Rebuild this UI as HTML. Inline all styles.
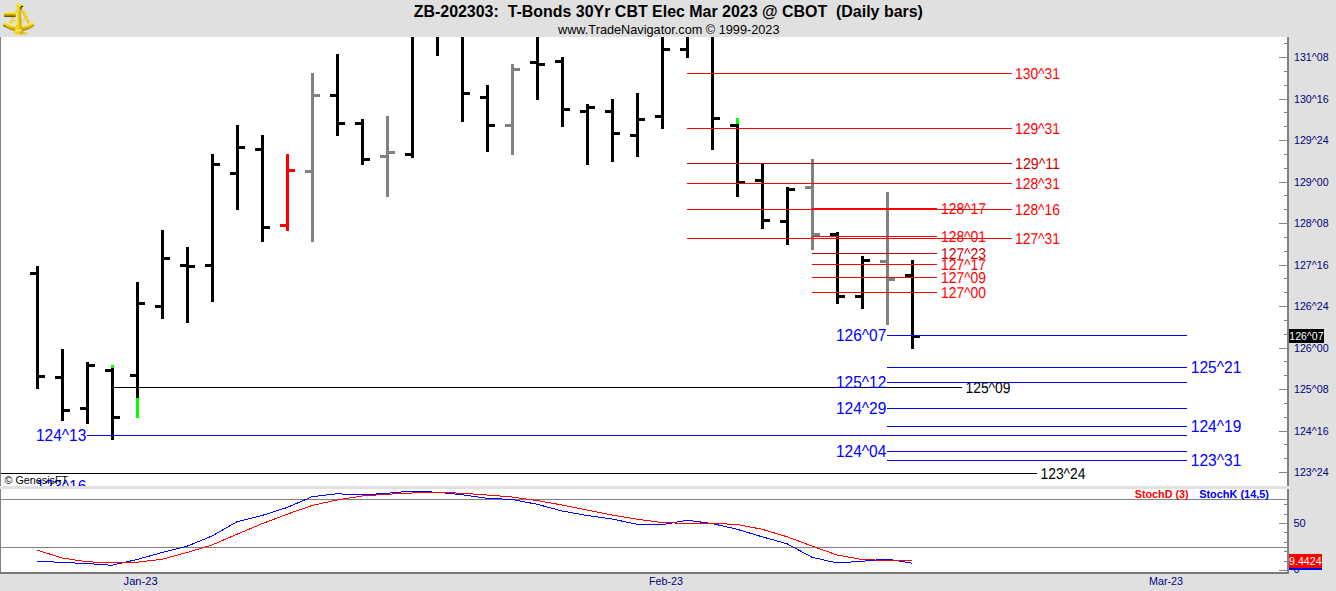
<!DOCTYPE html>
<html><head><meta charset="utf-8"><title>ZB-202303</title>
<style>
html,body{margin:0;padding:0;background:#fff;overflow:hidden}
svg{display:block;font-family:"Liberation Sans",Arial,sans-serif}
svg>rect{shape-rendering:crispEdges}
</style></head><body>
<svg width="1336" height="591" viewBox="0 0 1336 591">
<rect x="0" y="0" width="1336" height="591" fill="#ffffff"/>
<rect x="0" y="0" width="1336" height="37" fill="#e0e0e0"/>
<rect x="1289" y="37" width="47" height="554" fill="#e0e0e0"/>
<rect x="0" y="574" width="1336" height="17" fill="#e0e0e0"/>
<rect x="113" y="387" width="849" height="1" fill="#000000"/>
<rect x="1" y="473" width="1036" height="1" fill="#000000"/>
<rect x="36" y="266" width="3" height="123" fill="#000000"/>
<rect x="30" y="272" width="6" height="3" fill="#000000"/>
<rect x="39" y="375" width="6" height="3" fill="#000000"/>
<rect x="61" y="349" width="3" height="72" fill="#000000"/>
<rect x="55" y="376" width="6" height="3" fill="#000000"/>
<rect x="64" y="409" width="6" height="3" fill="#000000"/>
<rect x="86" y="362" width="3" height="62" fill="#000000"/>
<rect x="80" y="407" width="6" height="3" fill="#000000"/>
<rect x="89" y="364" width="6" height="3" fill="#000000"/>
<rect x="111" y="368" width="3" height="72" fill="#000000"/>
<rect x="105" y="369" width="6" height="3" fill="#000000"/>
<rect x="114" y="416" width="6" height="3" fill="#000000"/>
<rect x="136" y="282" width="3" height="116" fill="#000000"/>
<rect x="130" y="374" width="6" height="3" fill="#000000"/>
<rect x="139" y="302" width="6" height="3" fill="#000000"/>
<rect x="161" y="230" width="3" height="89" fill="#000000"/>
<rect x="155" y="305" width="6" height="3" fill="#000000"/>
<rect x="164" y="257" width="6" height="3" fill="#000000"/>
<rect x="186" y="247" width="3" height="76" fill="#000000"/>
<rect x="180" y="264" width="6" height="3" fill="#000000"/>
<rect x="189" y="265" width="6" height="3" fill="#000000"/>
<rect x="211" y="154" width="3" height="148" fill="#000000"/>
<rect x="205" y="264" width="6" height="3" fill="#000000"/>
<rect x="214" y="163" width="6" height="3" fill="#000000"/>
<rect x="236" y="125" width="3" height="85" fill="#000000"/>
<rect x="230" y="172" width="6" height="3" fill="#000000"/>
<rect x="239" y="146" width="6" height="3" fill="#000000"/>
<rect x="261" y="135" width="3" height="107" fill="#000000"/>
<rect x="255" y="148" width="6" height="3" fill="#000000"/>
<rect x="264" y="226" width="6" height="3" fill="#000000"/>
<rect x="286" y="154" width="3" height="77" fill="#ff0000"/>
<rect x="280" y="224" width="6" height="3" fill="#ff0000"/>
<rect x="289" y="169" width="6" height="3" fill="#ff0000"/>
<rect x="311" y="73" width="3" height="169" fill="#808080"/>
<rect x="305" y="170" width="6" height="3" fill="#808080"/>
<rect x="314" y="94" width="6" height="3" fill="#808080"/>
<rect x="336" y="54" width="3" height="82" fill="#000000"/>
<rect x="330" y="94" width="6" height="3" fill="#000000"/>
<rect x="339" y="122" width="6" height="3" fill="#000000"/>
<rect x="361" y="119" width="3" height="46" fill="#000000"/>
<rect x="355" y="122" width="6" height="3" fill="#000000"/>
<rect x="364" y="158" width="6" height="3" fill="#000000"/>
<rect x="386" y="116" width="3" height="81" fill="#808080"/>
<rect x="380" y="155" width="6" height="3" fill="#808080"/>
<rect x="389" y="151" width="6" height="3" fill="#808080"/>
<rect x="411" y="37" width="3" height="121" fill="#000000"/>
<rect x="405" y="153" width="6" height="3" fill="#000000"/>
<rect x="436" y="37" width="3" height="19" fill="#000000"/>
<rect x="461" y="37" width="3" height="85" fill="#000000"/>
<rect x="464" y="92" width="6" height="3" fill="#000000"/>
<rect x="486" y="85" width="3" height="67" fill="#000000"/>
<rect x="480" y="96" width="6" height="3" fill="#000000"/>
<rect x="489" y="124" width="6" height="3" fill="#000000"/>
<rect x="511" y="64" width="3" height="91" fill="#808080"/>
<rect x="505" y="124" width="6" height="3" fill="#808080"/>
<rect x="514" y="68" width="6" height="3" fill="#808080"/>
<rect x="536" y="37" width="3" height="63" fill="#000000"/>
<rect x="530" y="61" width="6" height="3" fill="#000000"/>
<rect x="539" y="63" width="6" height="3" fill="#000000"/>
<rect x="561" y="57" width="3" height="70" fill="#000000"/>
<rect x="555" y="60" width="6" height="3" fill="#000000"/>
<rect x="564" y="108" width="6" height="3" fill="#000000"/>
<rect x="586" y="104" width="3" height="61" fill="#000000"/>
<rect x="580" y="110" width="6" height="3" fill="#000000"/>
<rect x="589" y="106" width="6" height="3" fill="#000000"/>
<rect x="611" y="99" width="3" height="63" fill="#000000"/>
<rect x="605" y="110" width="6" height="3" fill="#000000"/>
<rect x="614" y="132" width="6" height="3" fill="#000000"/>
<rect x="636" y="93" width="3" height="64" fill="#000000"/>
<rect x="630" y="134" width="6" height="3" fill="#000000"/>
<rect x="639" y="118" width="6" height="3" fill="#000000"/>
<rect x="661" y="37" width="3" height="92" fill="#000000"/>
<rect x="655" y="115" width="6" height="3" fill="#000000"/>
<rect x="664" y="48" width="6" height="3" fill="#000000"/>
<rect x="686" y="37" width="3" height="21" fill="#000000"/>
<rect x="680" y="48" width="6" height="3" fill="#000000"/>
<rect x="711" y="37" width="3" height="113" fill="#000000"/>
<rect x="714" y="117" width="6" height="3" fill="#000000"/>
<rect x="736" y="124" width="3" height="73" fill="#000000"/>
<rect x="730" y="124" width="6" height="3" fill="#000000"/>
<rect x="739" y="181" width="6" height="3" fill="#000000"/>
<rect x="761" y="163" width="3" height="66" fill="#000000"/>
<rect x="755" y="179" width="6" height="3" fill="#000000"/>
<rect x="764" y="219" width="6" height="3" fill="#000000"/>
<rect x="786" y="187" width="3" height="58" fill="#000000"/>
<rect x="780" y="220" width="6" height="3" fill="#000000"/>
<rect x="789" y="188" width="6" height="3" fill="#000000"/>
<rect x="811" y="159" width="3" height="91" fill="#808080"/>
<rect x="805" y="186" width="6" height="3" fill="#808080"/>
<rect x="814" y="233" width="6" height="3" fill="#808080"/>
<rect x="836" y="232" width="3" height="72" fill="#000000"/>
<rect x="830" y="233" width="6" height="3" fill="#000000"/>
<rect x="839" y="295" width="6" height="3" fill="#000000"/>
<rect x="861" y="256" width="3" height="53" fill="#000000"/>
<rect x="855" y="295" width="6" height="3" fill="#000000"/>
<rect x="864" y="259" width="6" height="3" fill="#000000"/>
<rect x="886" y="192" width="3" height="133" fill="#808080"/>
<rect x="880" y="260" width="6" height="3" fill="#808080"/>
<rect x="889" y="278" width="6" height="3" fill="#808080"/>
<rect x="911" y="260" width="3" height="89" fill="#000000"/>
<rect x="905" y="274" width="6" height="3" fill="#000000"/>
<rect x="914" y="335" width="6" height="3" fill="#000000"/>
<rect x="111" y="365" width="3" height="3" fill="#00ff00"/>
<rect x="136" y="398" width="3" height="20" fill="#00ff00"/>
<rect x="736" y="118" width="3" height="6" fill="#00ff00"/>
<rect x="687" y="73" width="325" height="1" fill="#ff0000"/>
<text x="1015" y="79" font-size="15.7" fill="#ff0000" font-weight="normal" text-anchor="start" textLength="45" lengthAdjust="spacingAndGlyphs" text-rendering="geometricPrecision">130^31</text>
<rect x="687" y="128" width="325" height="1" fill="#ff0000"/>
<text x="1015" y="134" font-size="15.7" fill="#ff0000" font-weight="normal" text-anchor="start" textLength="45" lengthAdjust="spacingAndGlyphs" text-rendering="geometricPrecision">129^31</text>
<rect x="687" y="163" width="325" height="1" fill="#c80000"/>
<text x="1015" y="169" font-size="15.7" fill="#c80000" font-weight="normal" text-anchor="start" textLength="45" lengthAdjust="spacingAndGlyphs" text-rendering="geometricPrecision">129^11</text>
<rect x="687" y="183" width="325" height="1" fill="#ff0000"/>
<text x="1015" y="189" font-size="15.7" fill="#ff0000" font-weight="normal" text-anchor="start" textLength="45" lengthAdjust="spacingAndGlyphs" text-rendering="geometricPrecision">128^31</text>
<rect x="687" y="209" width="325" height="1" fill="#ff0000"/>
<text x="1015" y="215" font-size="15.7" fill="#ff0000" font-weight="normal" text-anchor="start" textLength="45" lengthAdjust="spacingAndGlyphs" text-rendering="geometricPrecision">128^16</text>
<rect x="687" y="238" width="325" height="1" fill="#ff0000"/>
<text x="1015" y="244" font-size="15.7" fill="#ff0000" font-weight="normal" text-anchor="start" textLength="45" lengthAdjust="spacingAndGlyphs" text-rendering="geometricPrecision">127^31</text>
<rect x="812" y="208" width="125" height="1" fill="#ff0000"/>
<text x="941" y="214" font-size="15.7" fill="#ff0000" font-weight="normal" text-anchor="start" textLength="45" lengthAdjust="spacingAndGlyphs" text-rendering="geometricPrecision">128^17</text>
<rect x="812" y="236" width="125" height="1" fill="#ff0000"/>
<text x="941" y="242" font-size="15.7" fill="#ff0000" font-weight="normal" text-anchor="start" textLength="45" lengthAdjust="spacingAndGlyphs" text-rendering="geometricPrecision">128^01</text>
<rect x="812" y="253" width="125" height="1" fill="#c80000"/>
<text x="941" y="259" font-size="15.7" fill="#c80000" font-weight="normal" text-anchor="start" textLength="45" lengthAdjust="spacingAndGlyphs" text-rendering="geometricPrecision">127^23</text>
<rect x="812" y="264" width="125" height="1" fill="#ff0000"/>
<text x="941" y="270" font-size="15.7" fill="#ff0000" font-weight="normal" text-anchor="start" textLength="45" lengthAdjust="spacingAndGlyphs" text-rendering="geometricPrecision">127^17</text>
<rect x="812" y="277" width="125" height="1" fill="#ff0000"/>
<text x="941" y="283" font-size="15.7" fill="#ff0000" font-weight="normal" text-anchor="start" textLength="45" lengthAdjust="spacingAndGlyphs" text-rendering="geometricPrecision">127^09</text>
<rect x="812" y="292" width="125" height="1" fill="#ff0000"/>
<text x="941" y="298" font-size="15.7" fill="#ff0000" font-weight="normal" text-anchor="start" textLength="45" lengthAdjust="spacingAndGlyphs" text-rendering="geometricPrecision">127^00</text>
<rect x="87" y="435" width="1100" height="1" fill="#0000ff"/>
<text x="86.4" y="441" font-size="16" fill="#0000ff" font-weight="normal" text-anchor="end" textLength="50.5" lengthAdjust="spacingAndGlyphs">124^13</text>
<rect x="887" y="335" width="300" height="1" fill="#0000ff"/>
<text x="886.4" y="341" font-size="16" fill="#0000ff" font-weight="normal" text-anchor="end" textLength="50.5" lengthAdjust="spacingAndGlyphs">126^07</text>
<rect x="887" y="367" width="300" height="1" fill="#0000ff"/>
<text x="1190.8" y="373" font-size="16" fill="#0000ff" font-weight="normal" text-anchor="start" textLength="50.5" lengthAdjust="spacingAndGlyphs">125^21</text>
<rect x="887" y="382" width="300" height="1" fill="#0000ff"/>
<text x="886.4" y="388" font-size="16" fill="#0000ff" font-weight="normal" text-anchor="end" textLength="50.5" lengthAdjust="spacingAndGlyphs">125^12</text>
<rect x="887" y="408" width="300" height="1" fill="#0000ff"/>
<text x="886.4" y="414" font-size="16" fill="#0000ff" font-weight="normal" text-anchor="end" textLength="50.5" lengthAdjust="spacingAndGlyphs">124^29</text>
<rect x="887" y="426" width="300" height="1" fill="#0000ff"/>
<text x="1190.8" y="432" font-size="16" fill="#0000ff" font-weight="normal" text-anchor="start" textLength="50.5" lengthAdjust="spacingAndGlyphs">124^19</text>
<rect x="887" y="451" width="300" height="1" fill="#0000ff"/>
<text x="886.4" y="457" font-size="16" fill="#0000ff" font-weight="normal" text-anchor="end" textLength="50.5" lengthAdjust="spacingAndGlyphs">124^04</text>
<rect x="887" y="460" width="300" height="1" fill="#0000ff"/>
<text x="1190.8" y="466" font-size="16" fill="#0000ff" font-weight="normal" text-anchor="start" textLength="50.5" lengthAdjust="spacingAndGlyphs">123^31</text>
<text x="86.4" y="492" font-size="16" fill="#0000ff" font-weight="normal" text-anchor="end" textLength="50.5" lengthAdjust="spacingAndGlyphs">123^16</text>
<text x="965.5" y="393" font-size="15.7" fill="#000000" font-weight="normal" text-anchor="start" textLength="45" lengthAdjust="spacingAndGlyphs" text-rendering="geometricPrecision">125^09</text>
<text x="1040.5" y="479" font-size="15.7" fill="#000000" font-weight="normal" text-anchor="start" textLength="45" lengthAdjust="spacingAndGlyphs" text-rendering="geometricPrecision">123^24</text>
<rect x="0" y="486" width="1289" height="3" fill="#e0e0e0"/>
<rect x="0" y="489" width="1287" height="83" fill="#ffffff"/>
<text x="4.6" y="484" font-size="11" fill="#000000" font-weight="normal" text-anchor="start" textLength="63.5" lengthAdjust="spacingAndGlyphs">© GenesisFT</text>
<rect x="1" y="499" width="1286" height="1" fill="#808080"/>
<rect x="1" y="547" width="1286" height="1" fill="#808080"/>
<text x="1134.7" y="497.5" font-size="11" fill="#ff0000" font-weight="bold" text-anchor="start" textLength="54" lengthAdjust="spacingAndGlyphs">StochD (3)</text>
<text x="1199.2" y="497.5" font-size="11" fill="#0000ff" font-weight="bold" text-anchor="start" textLength="69.8" lengthAdjust="spacingAndGlyphs">StochK (14,5)</text>
<polyline points="37,561 62,562.5 87,563.5 112,565.25 137,559.5 162,552.5 187,546.25 212,536 237,521.75 262,515.5 287,507.5 312,496.75 337,493.75 362,495 387,493.25 412,491 437,492.25 462,494.75 487,498.25 512,499.5 537,504.25 562,511 587,515.5 612,519 637,524.25 662,524.75 687,520.25 712,523.5 737,529.25 762,536.75 787,543.75 812,557.25 837,563 862,561.25 887,559 912,563.25" fill="none" stroke="#0000ff" stroke-width="1" shape-rendering="crispEdges"/>
<polyline points="37,550 62,558 87,561.75 112,562.75 137,562.25 162,559.25 187,552.5 212,545 237,534.25 262,523.75 287,514.25 312,505.5 337,500 362,496 387,494.25 412,493 437,492.25 462,493.25 487,495 512,497 537,500.5 562,505 587,510 612,515 637,519.25 662,522.5 687,523.5 712,523.25 737,524.5 762,529.25 787,536.75 812,546 837,555 862,559.5 887,560.5 912,561" fill="none" stroke="#ff0000" stroke-width="1" shape-rendering="crispEdges"/>
<rect x="0" y="37" width="1" height="537" fill="#808080"/>
<rect x="0" y="572" width="1289" height="2" fill="#787878"/>
<rect x="1287" y="37" width="2" height="537" fill="#808080"/>
<rect x="0" y="486" width="1289" height="3" fill="#e0e0e0"/>
<rect x="1279" y="57" width="8" height="1" fill="#808080"/>
<text x="1294" y="61" font-size="11" fill="#000080" font-weight="normal" text-anchor="start" textLength="34.6" lengthAdjust="spacingAndGlyphs">131^08</text>
<rect x="1284" y="43" width="3" height="1" fill="#808080"/>
<rect x="1284" y="71" width="3" height="1" fill="#808080"/>
<rect x="1284" y="85" width="3" height="1" fill="#808080"/>
<rect x="1279" y="99" width="8" height="1" fill="#808080"/>
<text x="1294" y="103" font-size="11" fill="#000080" font-weight="normal" text-anchor="start" textLength="34.6" lengthAdjust="spacingAndGlyphs">130^16</text>
<rect x="1284" y="85" width="3" height="1" fill="#808080"/>
<rect x="1284" y="112" width="3" height="1" fill="#808080"/>
<rect x="1284" y="126" width="3" height="1" fill="#808080"/>
<rect x="1279" y="140" width="8" height="1" fill="#808080"/>
<text x="1294" y="144" font-size="11" fill="#000080" font-weight="normal" text-anchor="start" textLength="34.6" lengthAdjust="spacingAndGlyphs">129^24</text>
<rect x="1284" y="126" width="3" height="1" fill="#808080"/>
<rect x="1284" y="154" width="3" height="1" fill="#808080"/>
<rect x="1284" y="168" width="3" height="1" fill="#808080"/>
<rect x="1279" y="182" width="8" height="1" fill="#808080"/>
<text x="1294" y="186" font-size="11" fill="#000080" font-weight="normal" text-anchor="start" textLength="34.6" lengthAdjust="spacingAndGlyphs">129^00</text>
<rect x="1284" y="168" width="3" height="1" fill="#808080"/>
<rect x="1284" y="195" width="3" height="1" fill="#808080"/>
<rect x="1284" y="209" width="3" height="1" fill="#808080"/>
<rect x="1279" y="223" width="8" height="1" fill="#808080"/>
<text x="1294" y="227" font-size="11" fill="#000080" font-weight="normal" text-anchor="start" textLength="34.6" lengthAdjust="spacingAndGlyphs">128^08</text>
<rect x="1284" y="209" width="3" height="1" fill="#808080"/>
<rect x="1284" y="237" width="3" height="1" fill="#808080"/>
<rect x="1284" y="251" width="3" height="1" fill="#808080"/>
<rect x="1279" y="265" width="8" height="1" fill="#808080"/>
<text x="1294" y="269" font-size="11" fill="#000080" font-weight="normal" text-anchor="start" textLength="34.6" lengthAdjust="spacingAndGlyphs">127^16</text>
<rect x="1284" y="251" width="3" height="1" fill="#808080"/>
<rect x="1284" y="278" width="3" height="1" fill="#808080"/>
<rect x="1284" y="292" width="3" height="1" fill="#808080"/>
<rect x="1279" y="306" width="8" height="1" fill="#808080"/>
<text x="1294" y="310" font-size="11" fill="#000080" font-weight="normal" text-anchor="start" textLength="34.6" lengthAdjust="spacingAndGlyphs">126^24</text>
<rect x="1284" y="292" width="3" height="1" fill="#808080"/>
<rect x="1284" y="320" width="3" height="1" fill="#808080"/>
<rect x="1284" y="334" width="3" height="1" fill="#808080"/>
<rect x="1279" y="348" width="8" height="1" fill="#808080"/>
<text x="1294" y="352" font-size="11" fill="#000080" font-weight="normal" text-anchor="start" textLength="34.6" lengthAdjust="spacingAndGlyphs">126^00</text>
<rect x="1284" y="334" width="3" height="1" fill="#808080"/>
<rect x="1284" y="361" width="3" height="1" fill="#808080"/>
<rect x="1284" y="375" width="3" height="1" fill="#808080"/>
<rect x="1279" y="389" width="8" height="1" fill="#808080"/>
<text x="1294" y="393" font-size="11" fill="#000080" font-weight="normal" text-anchor="start" textLength="34.6" lengthAdjust="spacingAndGlyphs">125^08</text>
<rect x="1284" y="375" width="3" height="1" fill="#808080"/>
<rect x="1284" y="403" width="3" height="1" fill="#808080"/>
<rect x="1284" y="417" width="3" height="1" fill="#808080"/>
<rect x="1279" y="431" width="8" height="1" fill="#808080"/>
<text x="1294" y="435" font-size="11" fill="#000080" font-weight="normal" text-anchor="start" textLength="34.6" lengthAdjust="spacingAndGlyphs">124^16</text>
<rect x="1284" y="417" width="3" height="1" fill="#808080"/>
<rect x="1284" y="444" width="3" height="1" fill="#808080"/>
<rect x="1284" y="458" width="3" height="1" fill="#808080"/>
<rect x="1279" y="472" width="8" height="1" fill="#808080"/>
<text x="1294" y="476" font-size="11" fill="#000080" font-weight="normal" text-anchor="start" textLength="34.6" lengthAdjust="spacingAndGlyphs">123^24</text>
<rect x="1284" y="458" width="3" height="1" fill="#808080"/>
<rect x="1279" y="570" width="8" height="1" fill="#808080"/>
<rect x="1284" y="561" width="3" height="1" fill="#808080"/>
<rect x="1284" y="551" width="3" height="1" fill="#808080"/>
<rect x="1284" y="542" width="3" height="1" fill="#808080"/>
<rect x="1284" y="532" width="3" height="1" fill="#808080"/>
<rect x="1279" y="523" width="8" height="1" fill="#808080"/>
<rect x="1284" y="514" width="3" height="1" fill="#808080"/>
<rect x="1284" y="504" width="3" height="1" fill="#808080"/>
<text x="1293.5" y="527" font-size="11" fill="#000080" font-weight="normal" text-anchor="start">50</text>
<text x="1293.5" y="573.4" font-size="11" fill="#000080" font-weight="normal" text-anchor="start">0</text>
<rect x="1289" y="329" width="35" height="14" fill="#000000"/>
<text x="1289.3" y="340" font-size="11" fill="#ffffff" font-weight="normal" text-anchor="start" textLength="34.2" lengthAdjust="spacingAndGlyphs">126^07</text>
<rect x="1289" y="554" width="33" height="14" fill="#ff0000"/>
<rect x="1289" y="568" width="33" height="2" fill="#0000ff"/>
<text x="1289" y="565" font-size="11" fill="#ffffff" font-weight="normal" text-anchor="start" textLength="32.6" lengthAdjust="spacingAndGlyphs">9.4424</text>
<text x="123.6" y="585" font-size="11" fill="#000080" font-weight="normal" text-anchor="start" textLength="34" lengthAdjust="spacingAndGlyphs">Jan-23</text>
<text x="649" y="585" font-size="11" fill="#000080" font-weight="normal" text-anchor="start" textLength="34" lengthAdjust="spacingAndGlyphs">Feb-23</text>
<text x="1149" y="585" font-size="11" fill="#000080" font-weight="normal" text-anchor="start" textLength="34" lengthAdjust="spacingAndGlyphs">Mar-23</text>
<text x="413.7" y="16.6" font-size="16" fill="#000000" font-weight="bold" text-anchor="start" xml:space="preserve" textLength="509.2" lengthAdjust="spacingAndGlyphs">ZB-202303:&#160;&#160;T-Bonds 30Yr CBT Elec Mar 2023 @ CBOT&#160;&#160;(Daily bars)</text>
<text x="558" y="34" font-size="13.5" fill="#000000" font-weight="normal" text-anchor="start" textLength="221.5" lengthAdjust="spacingAndGlyphs">www.TradeNavigator.com © 1999-2023</text>
<defs>
<linearGradient id="gTel" x1="0" y1="0" x2="0" y2="1"><stop offset="0" stop-color="#fff27a"/><stop offset="0.35" stop-color="#f2d21c"/><stop offset="0.7" stop-color="#b08c00"/><stop offset="1" stop-color="#4a3c00"/></linearGradient>
<linearGradient id="gArc" x1="0" y1="0" x2="0" y2="1"><stop offset="0" stop-color="#ffe94e"/><stop offset="0.55" stop-color="#f0cc10"/><stop offset="1" stop-color="#c49c00"/></linearGradient>
<linearGradient id="gArm" x1="0" y1="0" x2="1" y2="0"><stop offset="0" stop-color="#fff06a"/><stop offset="0.45" stop-color="#f4d418"/><stop offset="1" stop-color="#b89200"/></linearGradient>
<linearGradient id="gBase" x1="0" y1="0" x2="1" y2="0"><stop offset="0" stop-color="#f8dc2c"/><stop offset="0.5" stop-color="#f0cc10"/><stop offset="1" stop-color="#c8a000"/></linearGradient>
</defs>
<g shape-rendering="geometricPrecision">
<!-- limb arc shadow + arc -->
<path d="M2.9 25.7 A24.9 24.9 0 0 0 34.9 25.7 L31.9 22.3 A20.4 20.4 0 0 1 5.9 22.3 Z" fill="#8a7400" opacity="0.45"/>
<path d="M3.15 25.1 A24.5 24.5 0 0 0 34.65 25.1 L31.76 21.7 A20 20 0 0 1 6.04 21.7 Z" fill="url(#gArc)"/>
<path d="M4.0 25.0 A23.7 23.7 0 0 0 33.8 25.0" fill="none" stroke="#b89400" stroke-width="1.4" opacity="0.9"/>
<path d="M6.6 22.6 A20.9 20.9 0 0 0 31.2 22.6" fill="none" stroke="#fff27a" stroke-width="1.2" opacity="0.9"/>
<path d="M2.9 24.7 L3.2 26 L6.4 27.8 L5.6 26.6 Z" fill="#5a4a00" opacity="0.7"/>
<!-- frame legs -->
<line x1="17.2" y1="9.4" x2="10.2" y2="23.2" stroke="#f2d428" stroke-width="2.2"/>
<line x1="21.2" y1="9.4" x2="29" y2="23.2" stroke="#ecca1c" stroke-width="2.2"/>
<path d="M11.8 20.6 Q19 22 27.8 19.2" fill="none" stroke="#f2d630" stroke-width="1.3"/>
<!-- mirror bits -->
<line x1="24" y1="11.4" x2="26.8" y2="14.4" stroke="#f6dc40" stroke-width="2"/>
<line x1="26.4" y1="16.2" x2="27.6" y2="19" stroke="#f0d028" stroke-width="1.8"/>
<!-- telescope -->
<rect x="4.1" y="11.7" width="11.7" height="5.3" rx="0.8" fill="url(#gTel)"/>
<!-- index arm -->
<path d="M17.5 6.8 L20.6 6.8 L21.5 26 L16 26 Z" fill="url(#gArm)"/>
<path d="M20.2 7 L22 7 L21.6 9.2 L20.4 9.2 Z" fill="#5a4800"/>
<!-- top knob -->
<path d="M15.1 6.3 Q15.3 4.3 18.9 2.7 Q22.5 4.3 22.7 6.3 L21.4 7.1 L16.4 7.1 Z" fill="#f6d820"/>
<path d="M17 4.6 Q18.9 3.4 20.8 4.6" fill="none" stroke="#fff27a" stroke-width="0.8"/>
<path d="M21.2 5.6 L23.4 6 L23.2 7 L21 7 Z" fill="#3c3000"/>
<!-- base handle -->
<path d="M16 25 L21.5 25 L23.6 33 Q23.6 34.4 22 34.4 L15.8 34.4 Q14.2 34.4 14.2 33 Z" fill="url(#gBase)"/>
<rect x="16.4" y="29.6" width="5" height="1.7" fill="#f7e68a"/>
<path d="M23.4 32.4 L27 32 L27 34.6 L23.4 34.2 Z" fill="#ecc818"/>
</g>

</svg>
</body></html>
